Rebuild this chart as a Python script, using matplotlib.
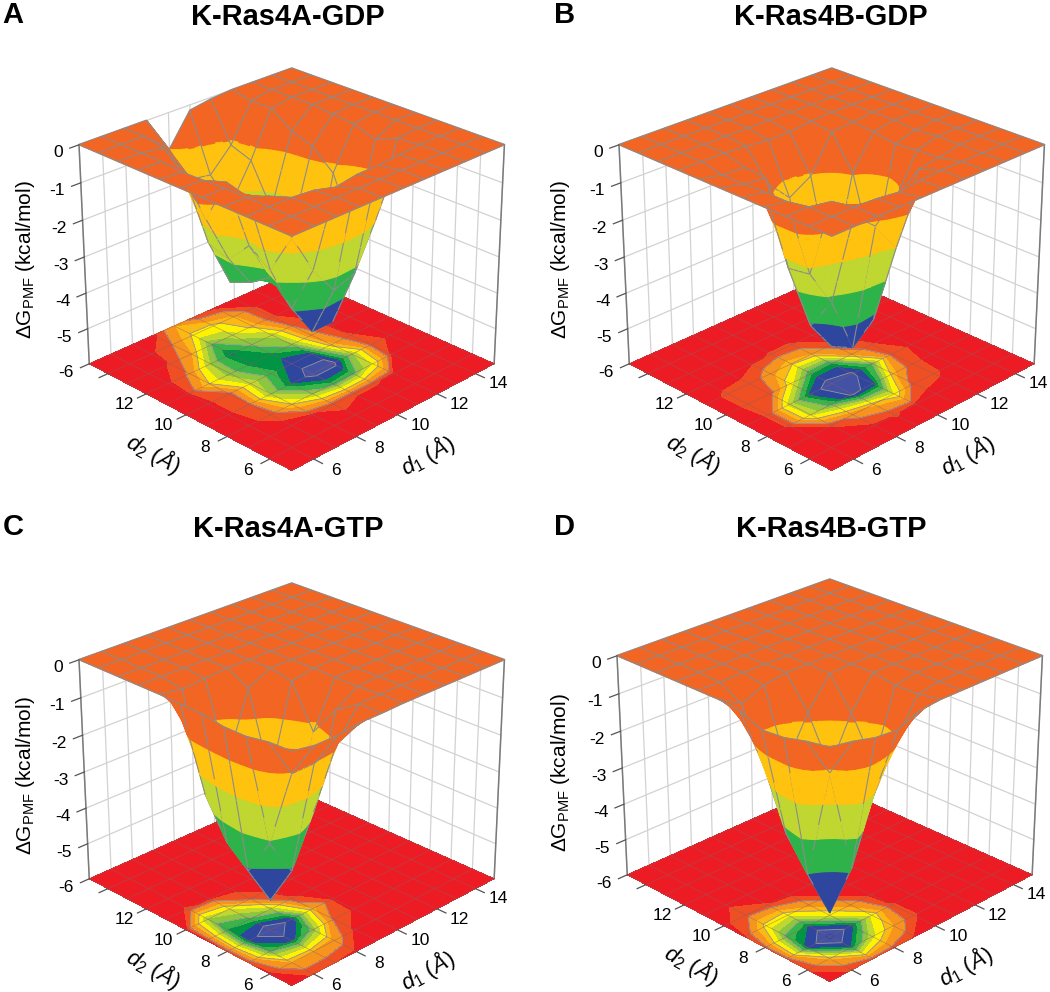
import numpy as np
import matplotlib
matplotlib.use("Agg")
import matplotlib.pyplot as plt
from mpl_toolkits.mplot3d.art3d import Poly3DCollection

plt.rcParams["font.family"] = ["Liberation Sans", "DejaVu Sans"]
plt.rcParams["mathtext.fontset"] = "custom"
plt.rcParams["mathtext.rm"] = "Liberation Sans"
plt.rcParams["mathtext.it"] = "Liberation Sans:italic"

d1 = [5, 6, 7, 8, 9, 10, 11, 12, 13, 14, 15]
d2 = [5, 6, 7, 8, 9, 10, 11, 12, 13, 14, 15]
dist_ticks = [6, 8, 10, 12, 14]
d2_labels = [6, 8, 10, 12]
d1_labels = [6, 8, 10, 12, 14]
z_ticks = [0, -1, -2, -3, -4, -5, -6]

# rows are d2 = 5..15, columns d1 = 5..15
pmf_a = [
    [0, 0, 0, 0, 0, 0, 0, 0, 0, 0, 0],
    [0, 0, 0, 0, 0, 0, 0, 0, 0, 0, 0],
    [0, 0, 0, -.05, -.2, -.1, -.1, -.05, 0, 0, 0],
    [0, 0, -.2, -1.5, -2.6, -3.4, -3.2, -2.0, -.05, 0, 0],
    [0, 0, -.45, -2.6, -3.9, -4.8, -4.8, -2.6, -.3, 0, 0],
    [0, -.03, -.3, -2.2, -3.3, -4.2, -4.1, -1.2, -.1, 0, 0],
    [0, -.05, -1.5, -2.8, -3.7, -3.6, -2.8, -.7, -.05, 0, 0],
    [0, 0, -.6, -2.6, -3.95, -2.9, -2.4, -.5, 0, 0, 0],
    [0, 0, -.1, -1.0, -3.1, -2.3, -1.3, -.1, 0, 0, 0],
    [0, 0, 0, -.5, -1.6, -1.7, -1.1, -.1, 0, 0, 0],
    [0, 0, 0, 0, -1.0, -.15, -.05, 0, 0, 0, 0],
]
pmf_b = [
    [0, 0, 0, 0, 0, 0, 0, 0, 0, 0, 0],
    [0, 0, 0, -.03, -.1, -.03, 0, 0, 0, 0, 0],
    [0, 0, -.1, -.7, -1.2, -2.0, -.2, -.12, 0, 0, 0],
    [0, -.1, -2.2, -3.2, -4.7, -4.2, -1.2, -.15, 0, 0, 0],
    [0, -.1, -2.3, -4.1, -4.95, -4.6, -3.0, -.2, -.05, 0, 0],
    [0, -.12, -.2, -1.8, -3.5, -3.6, -.95, -.1, 0, 0, 0],
    [0, -.12, -.15, -.8, -1.4, -1.05, -.1, -.05, 0, 0, 0],
    [0, 0, 0, -.05, -.1, -.1, -.03, 0, 0, 0, 0],
    [0, 0, 0, 0, 0, 0, 0, 0, 0, 0, 0],
    [0, 0, 0, 0, 0, 0, 0, 0, 0, 0, 0],
    [0, 0, 0, 0, 0, 0, 0, 0, 0, 0, 0],
]
pmf_c = [
    [0, -.1, -.1, -.02, -.02, 0, 0, 0, 0, 0, 0],
    [-.02, -1.05, -1.04, -.8, -.02, 0, 0, 0, 0, 0, 0],
    [-.12, -3.1, -4.1, -2.8, -.4, -.03, 0, 0, 0, 0, 0],
    [-.12, -4.1, -5.17, -4.2, -1.2, -.02, 0, 0, 0, 0, 0],
    [-.03, -3.6, -3.2, -2.4, -.12, 0, 0, 0, 0, 0, 0],
    [-.02, -2.6, -2.0, -.3, 0, 0, 0, 0, 0, 0, 0],
    [0, -.1, -.05, 0, 0, 0, 0, 0, 0, 0, 0],
    [0, 0, 0, 0, 0, 0, 0, 0, 0, 0, 0],
    [0, 0, 0, 0, 0, 0, 0, 0, 0, 0, 0],
    [0, 0, 0, 0, 0, 0, 0, 0, 0, 0, 0],
    [0, 0, 0, 0, 0, 0, 0, 0, 0, 0, 0],
]
pmf_d = [
    [0, -.1, -.25, -.3, -.05, 0, 0, 0, 0, 0, 0],
    [-.1, -1.13, -3.85, -2.2, -1.05, -.1, 0, 0, 0, 0, 0],
    [-.25, -4.03, -5.34, -4.1, -1.9, -.1, 0, 0, 0, 0, 0],
    [-.3, -3.2, -3.9, -2.0, -.8, 0, 0, 0, 0, 0, 0],
    [-.05, -1.7, -1.9, -.8, -.03, 0, 0, 0, 0, 0, 0],
    [0, -.35, -.1, 0, 0, 0, 0, 0, 0, 0, 0],
    [0, -.03, 0, 0, 0, 0, 0, 0, 0, 0, 0],
    [0, 0, 0, 0, 0, 0, 0, 0, 0, 0, 0],
    [0, 0, 0, 0, 0, 0, 0, 0, 0, 0, 0],
    [0, 0, 0, 0, 0, 0, 0, 0, 0, 0, 0],
    [0, 0, 0, 0, 0, 0, 0, 0, 0, 0, 0],
]

titles = ["K-Ras4A-GDP", "K-Ras4B-GDP", "K-Ras4A-GTP", "K-Ras4B-GTP"]
letters = ["A", "B", "C", "D"]
panels = [pmf_a, pmf_b, pmf_c, pmf_d]

# surface colours, one per whole kcal/mol
surf_levels = [-99, -4, -3, -2, -1, 1]
surf_colors = ["#2E469E", "#2EB34A", "#BFD730", "#FFC20E", "#F26522"]
# floor map colours, half kcal/mol steps
floor_levels = [-7, -5, -4.5, -3.85, -3.5, -3, -2.5, -2, -1.5, -1, -.5, -.08, 1]
floor_colors = ["#3B4BA0", "#4452A5", "#2E469E", "#009444", "#39B54A", "#8DC63F", "#BFD730",
                "#FFF200", "#FDB913", "#F7941D", "#F04E23", "#ED1C24"]

W, H = 1050, 992
AX_SIZE = 500
# pixel position of each panel relative to panel A
offsets = [(0, 0), (540, 0), (0, 515), (538, 511)]
title_xy = [(288, 17), (831, 17), (288, 529), (831, 529)]
letter_xy = [(13, 15), (565, 15), (13, 527), (565, 527)]
ylab_xy = [(26, 260), (560, 260), (26, 776), (560, 773)]
CX, CY = 291.7, 257
ELEV, AZIM = 26, -135
SUB = 4
GREY = "#8C8C8C"


def clip_band(poly, lo, hi):
    # cut a polygon to the part lying between two heights
    for level, sign in ((lo, 1), (hi, -1)):
        out = []
        n = len(poly)
        for i in range(n):
            p, q = poly[i], poly[(i + 1) % n]
            dp, dq = sign * (p[2] - level), sign * (q[2] - level)
            if dp >= 0:
                out.append(p)
            if dp * dq < 0:
                out.append(p + (q - p) * dp / (dp - dq))
        poly = out
        if len(poly) < 3:
            return []
    return poly


def surface_polys(xs, ys, zz):
    # band coloured pieces plus the mesh lines, all sorted together so the funnel hides them
    verts, faces = [], []
    t = np.linspace(0, 1, SUB + 1)
    c = np.array([-np.cos(np.radians(ELEV)) * 0.7071, -np.cos(np.radians(ELEV)) * 0.7071, np.sin(np.radians(ELEV))])
    shift = 0.018 * c * np.array([10, 10, 6 / 0.83])
    for j in range(len(ys) - 1):
        for i in range(len(xs) - 1):
            z00, z10, z01, z11 = zz[j, i], zz[j, i + 1], zz[j + 1, i], zz[j + 1, i + 1]
            def pt(u, v):
                z = z00 * (1 - u) * (1 - v) + z10 * u * (1 - v) + z01 * (1 - u) * v + z11 * u * v
                return np.array([xs[i] + u * (xs[i + 1] - xs[i]), ys[j] + v * (ys[j + 1] - ys[j]), z])
            for a in range(SUB):
                for b in range(SUB):
                    quad = [pt(t[a], t[b]), pt(t[a + 1], t[b]), pt(t[a + 1], t[b + 1]), pt(t[a], t[b + 1])]
                    for k, col in enumerate(surf_colors):
                        piece = clip_band(quad, surf_levels[k], surf_levels[k + 1])
                        if piece:
                            verts.append(np.array(piece))
                            faces.append(col)
                # cell edges as short grey strokes
                verts.append(np.array([pt(t[a], 0), pt(t[a + 1], 0)]) + shift)
                faces.append(GREY)
                verts.append(np.array([pt(0, t[a]), pt(0, t[a + 1])]) + shift)
                faces.append(GREY)
                if i == len(xs) - 2:
                    verts.append(np.array([pt(1, t[a]), pt(1, t[a + 1])]) + shift)
                    faces.append(GREY)
                if j == len(ys) - 2:
                    verts.append(np.array([pt(t[a], 1), pt(t[a + 1], 1)]) + shift)
                    faces.append(GREY)
    return verts, faces


fig = plt.figure(figsize=(W / 100, H / 100), dpi=100, facecolor="white")

for n, pmf in enumerate(panels):
    zz = np.array(pmf, dtype=float)
    X, Y = np.meshgrid(d1, d2)
    px, py = CX + offsets[n][0], CY + offsets[n][1]
    left = (px - 0.5135 * AX_SIZE) / W
    bottom = (H - py - 0.5135 * AX_SIZE) / H
    ax = fig.add_axes([left, bottom, AX_SIZE / W, AX_SIZE / H], projection="3d", computed_zorder=False)
    ax.set_proj_type("persp", focal_length=0.8)
    ax.view_init(elev=ELEV, azim=AZIM)
    ax.set_box_aspect((1, 1, 0.83), zoom=0.934)
    ax.set_xlim(5, 15, view_margin=0)
    ax.set_ylim(5, 15, view_margin=0)
    ax.set_zlim(-6, 0, view_margin=0)
    ax.set_xticks([])
    ax.set_yticks([])
    ax.set_zticks([])
    ax.set_axis_off()
    ax.patch.set_alpha(0)

    # back walls
    wall = "#D2D2D2"
    for v in d1:
        ax.plot([v, v], [15, 15], [-6, 0], color=wall, lw=0.9, zorder=1)
    for v in d2:
        ax.plot([15, 15], [v, v], [-6, 0], color=wall, lw=0.9, zorder=1)
    for z in z_ticks:
        ax.plot([5, 15], [15, 15], [z, z], color=wall, lw=0.9, zorder=1)
        ax.plot([15, 15], [5, 15], [z, z], color=wall, lw=0.9, zorder=1)
    ax.plot([5, 5], [15, 15], [-6, 0], color="#7A7A7A", lw=1.1, zorder=1)
    ax.plot([15, 15], [5, 5], [-6, 0], color="#7A7A7A", lw=1.1, zorder=1)

    # floor map
    ax.contourf(X, Y, zz, levels=floor_levels, colors=floor_colors, zdir="z", offset=-6, zorder=2)
    ax.contour(X, Y, zz, levels=[-4.5, -3, -1.5, -.5], colors="#9A9A9A", linewidths=0.6,
               linestyles="solid", zdir="z", offset=-6, zorder=3)
    for v in d1:
        ax.plot([v, v], [5, 15], [-6, -6], color="#8A6060", lw=0.5, alpha=0.55, zorder=3)
        ax.plot([5, 15], [v, v], [-6, -6], color="#8A6060", lw=0.5, alpha=0.55, zorder=3)

    # surface
    verts, faces = surface_polys(d1, d2, zz)
    poly = Poly3DCollection(verts, facecolors=faces, edgecolors=faces, linewidths=0.8, zsort="average", zorder=4)
    ax.add_collection3d(poly, autolim=False)

    # ticks and their labels
    for z in z_ticks:
        ax.plot([4.6, 5], [15, 15], [z, z], color="#555555", lw=0.9, zorder=5)
        ax.text(4.3, 15, z - .05, str(z), fontsize=12.5, ha="right", va="center", zorder=6)
    for v in dist_ticks:
        ax.plot([4.6, 5], [v, v], [-6, -6], color="#555555", lw=0.9, zorder=5)
        ax.plot([v, v], [4.6, 5], [-6, -6], color="#555555", lw=0.9, zorder=5)
    for v in d2_labels:
        ax.text(4.0, v, -6.0, str(v), fontsize=12.5, ha="center", va="center", zorder=6)
    for v in d1_labels:
        ax.text(v - .1, 3.9, -5.95, str(v), fontsize=12.5, ha="center", va="center", zorder=6)
    ax.text(8.75, 2.55, -6, r"$\mathit{d}_{\mathregular{1}}$ ($\mathit{\AA}$)", "x", fontsize=16,
            ha="center", va="center", zorder=6)
    ax.text(2.58, 8.92, -6, r"$\mathit{d}_{\mathregular{2}}$ ($\mathit{\AA}$)", "y", fontsize=16,
            ha="center", va="center", zorder=6)

    fig.text(title_xy[n][0] / W, 1 - title_xy[n][1] / H, titles[n], fontsize=20.9, fontweight="bold",
             ha="center", va="center")
    fig.text(letter_xy[n][0] / W, 1 - letter_xy[n][1] / H, letters[n], fontsize=21, fontweight="bold",
             ha="center", va="center")
    fig.text(ylab_xy[n][0] / W, 1 - ylab_xy[n][1] / H, "ΔG$_{\\mathregular{PMF}}$ (kcal/mol)", fontsize=15,
             rotation=90, ha="center", va="center")

fig.savefig("out.png", dpi=100, facecolor="white")
